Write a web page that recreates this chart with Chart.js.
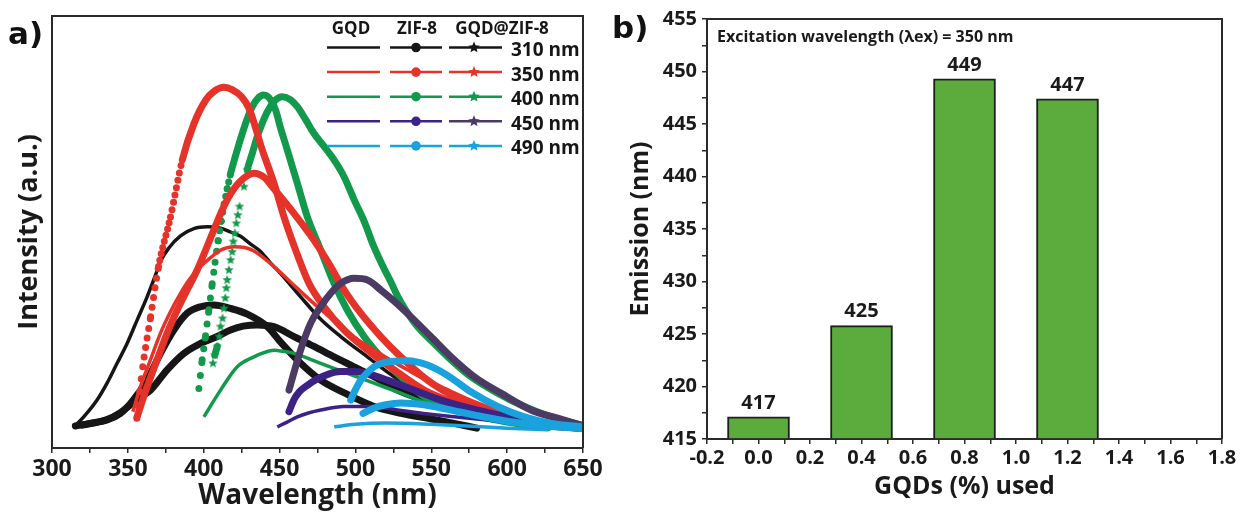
<!DOCTYPE html>
<html>
<head>
<meta charset="utf-8">
<script src="https://cdn.jsdelivr.net/npm/chart.js@4.4.1/dist/chart.umd.min.js"></script>
<style>
  body { margin: 0; background: #fff; width: 1241px; height: 514px; overflow: hidden; position: relative; }
  #spectra { position: absolute; left: 0; top: 0; }
  #emission { position: absolute; left: 620px; top: 0; }
  .panel { position: absolute; font: bold 31px 'DejaVu Sans', sans-serif; color: #111; line-height: 1; }
</style>
</head>
<body>
<canvas id="spectra" width="620" height="514"></canvas>
<canvas id="emission" width="621" height="514"></canvas>
<div class="panel" style="left:8px;top:18px">a)</div>
<div class="panel" style="left:612px;top:12px">b)</div>
<script>
// panel a: emission spectra, [wavelength (nm), intensity (a.u.)]
const gqd310 = [[315.4,52],[320.9,72],[329.7,111],[336.3,150],[342.9,196],[349.5,242],[356.1,296],[362.7,350],[368.2,400],[371.5,432],[377,463],[384.7,491],[393.5,508],[402.3,512],[411.1,509],[417.7,500],[424.3,490],[430.9,472],[437.5,455],[444.1,428],[450.7,404],[463.9,350],[477.1,298],[490.3,258],[507.9,211],[525.5,165],[543.1,134],[560.7,108],[580,82],[600,63],[625,50],[650,41]];
const zif310 = [[315.4,51],[325.3,57],[336.3,65],[345.1,80],[351.7,103],[357,127],[362.7,157],[371.5,219],[380.3,273],[389.1,312],[397.9,327],[406.7,331],[417.7,323],[428.7,310],[441.9,281],[450.7,245],[463.9,196],[477.1,157],[494.7,124],[512.3,96],[530,80],[550,67],[565,57],[580,46]];
const gqdZif310 = [[320,53],[336.3,66],[345.1,82],[351.7,100],[357,115],[364.9,134],[375.9,181],[386.9,219],[397.9,242],[408.9,258],[417.7,273],[426,282],[435.3,285],[446.3,281],[459.5,258],[472.7,235],[485.9,211],[499.1,188],[512.3,165],[527.7,134],[545.3,111],[565,92],[580,79],[600,64],[625,52],[650,45]];

const gqd350 = [[353.3,84],[358.3,142],[365,205],[371.5,266],[378,315],[384.7,358],[391,392],[397.9,420],[405,442],[411.1,458],[419.9,466],[427,464],[433.1,456],[446.3,420],[457,385],[468.3,348],[479,315],[490.3,281],[501,252],[512.3,227],[523,204],[534.3,181],[545,160],[556.3,142],[580,105],[600,80],[625,60],[650,46]];
const zif350 = [[355.9,69],[359.8,188],[365,304],[370.2,420],[378.1,535],[385.9,667],[393.7,752],[401.5,806],[407,826],[413.3,835],[419,829],[425,813],[430,785],[438.6,690],[446.3,613],[452.9,535],[460.6,458],[469.4,381],[479.3,327],[492.5,273],[507.9,227],[525.5,181],[545.3,134],[565.1,104],[580,82],[600,64],[625,52],[650,45]];
const gqdZif350 = [[356.1,72],[362.7,142],[369.3,204],[375.9,266],[382.5,319],[389.1,366],[395.7,412],[406.7,505],[412.2,551],[417.7,588],[424.3,618],[433.1,636],[440,626],[446.3,600],[459.5,543],[472.7,481],[483.7,420],[492.5,366],[503.5,312],[516.7,258],[529.9,211],[547.5,157],[565.1,119],[580,97],[600,75],[625,58],[650,46]];

const gqd400 = [[400.1,72],[411.1,134],[422.1,188],[433.1,211],[440,221],[446.3,226],[452,224],[459.5,219],[477.1,196],[494.7,173],[512.3,150],[529.9,127],[547.5,103],[565,86],[580,73],[600,60],[625,50],[650,43]];
const zif400 = [[396.8,138],[399,204],[401.2,260],[403.4,320],[405.6,380],[407.5,430],[409.5,480],[411.5,525],[413.5,565],[415.5,600],[417.7,635],[422.1,690],[426.5,740],[430.9,782],[435.3,808],[439.7,817],[444.1,806],[447.4,782],[450.7,740],[455.1,690],[461.7,613],[468.3,535],[477.1,458],[485.9,381],[494.7,319],[505.7,258],[516.7,211],[529.9,165],[545.3,119],[560,95],[580,75],[600,60],[627,47]];
const gqdZif400 = [[406.1,196],[407.3,215],[408.9,235],[410.2,258],[411.1,281],[412.4,300],[413.3,323],[414.2,347],[414.9,370],[415.5,389],[416.6,412],[417.7,435],[418.8,454],[419.5,478],[420.5,497],[421.5,520],[422.5,539],[423.6,559],[426.5,605],[428.7,644],[432,682],[435.3,721],[438.6,752],[441.9,778],[446.3,802],[451.8,813],[457.3,806],[461.7,790],[467.2,760],[472.7,728],[479.3,698],[485.9,667],[492.5,628],[499.1,575],[505.7,525],[512.3,465],[518.9,415],[523.3,385],[527.7,352],[532.1,325],[540.9,281],[551.9,242],[563,204],[576.1,165],[593.7,127],[611.3,96],[629,72],[648.7,53]];

const gqd450 = [[448.5,49],[455,60],[461.7,72],[469,81],[477.1,88],[492.5,96],[510.1,96],[527.7,88],[545,80],[560,74],[580,67],[600,60],[625,52],[650,45]];
const zif450 = [[456.2,84],[459.5,112],[463,130],[468.3,145],[474.9,160],[481.5,170],[490,177],[500,177],[507.9,172],[521.1,157],[538.7,134],[556.3,111],[580,88],[600,72],[625,57],[650,47]];
const gqdZif450 = [[456.2,134],[463.9,227],[470.5,289],[477.1,327],[483.7,358],[490.3,381],[499.1,393],[507.9,389],[516.7,366],[525.5,340],[536.5,304],[549.7,258],[563,211],[578.3,165],[595.9,127],[615.7,88],[633.3,69],[648.7,53]];

const gqd490 = [[486,49],[500,55],[520,58],[550,55],[580,50],[600,46],[627,42]];
const zif490 = [[505,80],[512,92],[520,100],[530,104],[545,100],[560,90],[580,75],[600,62],[625,51],[650,45]];
const gqdZif490 = [[496.9,111],[500,135],[503.5,157],[508,175],[512.3,188],[517,196],[523.3,200],[534.3,202],[547.5,192],[560.7,168],[576.1,130],[593.7,96],[611.3,72],[629,57],[648.7,49]];

const legendHeaders = ['GQD', 'ZIF-8', 'GQD@ZIF-8'];
const excitations = ['310 nm', '350 nm', '400 nm', '450 nm', '490 nm'];
const lineColors = ['#161616', '#e5332a', '#13994b', '#3d2286', '#19a2dd'];
const starColors = ['#161616', '#e5332a', '#13994b', '#4b3a63', '#19a2dd'];

// panel b: emission peak vs GQD loading
const gqdPercent = [0, 0.4, 0.8, 1.2];
const emissionNm = [417.1, 425.8, 449.3, 447.4];
const emissionLabels = ['417', '425', '449', '447'];

const axisColor = '#2a2a2a';
const fontFamily = "'Open Sans', sans-serif";
Chart.defaults.font.family = fontFamily;
Chart.defaults.color = '#1a1a1a';

function drawStar(g, cx, cy, r, color) {
  g.beginPath();
  for (let i = 0; i < 10; i++) {
    const a = -Math.PI / 2 + i * Math.PI / 5;
    const rr = i % 2 ? r * 0.45 : r;
    g.lineTo(cx + rr * Math.cos(a), cy + rr * Math.sin(a));
  }
  g.closePath();
  g.fillStyle = color;
  g.fill();
}

function starImage(color, r) {
  const c = document.createElement('canvas');
  c.width = c.height = Math.ceil(r * 2 + 2);
  drawStar(c.getContext('2d'), c.width / 2, c.height / 2, r, color);
  return c;
}

const toXY = arr => arr.map(p => ({ x: p[0], y: p[1] }));
const pxSlope = ctx => Math.abs(ctx.p1.y - ctx.p0.y) / Math.max(Math.abs(ctx.p1.x - ctx.p0.x), 0.01);

function gqdLine(data, color) {
  return {
    data: toXY(data), borderColor: color, borderWidth: 3.5, pointRadius: 0,
    cubicInterpolationMode: 'monotone'
  };
}

// ZIF-8 traces: dense markers, separate dots only where the curve is steep
function zifLine(data, color) {
  return {
    data: toXY(data), borderColor: color, borderWidth: 7, borderCapStyle: 'round',
    pointRadius: 0, cubicInterpolationMode: 'monotone',
    segment: {
      borderDash: ctx => {
        const s = pxSlope(ctx);
        const gap = 1.515 * Math.sqrt(1 + s * s);
        return gap > 6.2 ? [0, gap] : undefined;
      }
    }
  };
}

// GQD@ZIF-8 traces: stars visible where the curve is steep
function starLine(data, color) {
  const steep = (i, j) => {
    if (j < 0 || j >= data.length) return false;
    return Math.abs(data[j][1] - data[i][1]) / Math.abs(data[j][0] - data[i][0]) * 0.285 > 3.6;
  };
  return {
    data: toXY(data), borderColor: color, borderWidth: 7, borderCapStyle: 'round',
    cubicInterpolationMode: 'monotone', pointStyle: starImage(color, 5),
    pointRadius: ctx => (steep(ctx.dataIndex, ctx.dataIndex - 1) || steep(ctx.dataIndex, ctx.dataIndex + 1)) ? 5 : 0,
    segment: { borderColor: ctx => pxSlope(ctx) > 3.6 ? 'rgba(0,0,0,0)' : undefined }
  };
}

const frame = {
  id: 'frame',
  afterDraw(chart) {
    const { ctx, chartArea: a } = chart;
    ctx.save();
    ctx.strokeStyle = axisColor;
    ctx.lineWidth = 2;
    ctx.beginPath();
    ctx.moveTo(a.left, a.top);
    ctx.lineTo(a.right, a.top);
    ctx.lineTo(a.right, a.bottom);
    ctx.stroke();
    ctx.restore();
  }
};

const spectraLegend = {
  id: 'spectraLegend',
  afterDraw(chart) {
    const ctx = chart.ctx;
    ctx.save();
    ctx.fillStyle = '#161616';
    ctx.textBaseline = 'middle';
    ctx.textAlign = 'center';
    ctx.font = `bold 17px ${fontFamily}`;
    const headX = [351, 417, 502];
    legendHeaders.forEach((h, i) => ctx.fillText(h, headX[i], 29));
    excitations.forEach((label, i) => {
      const y = 47.5 + i * 24.6;
      ctx.lineWidth = 2.5;
      ctx.strokeStyle = lineColors[i];
      ctx.beginPath(); ctx.moveTo(327, y); ctx.lineTo(380, y); ctx.stroke();
      ctx.beginPath(); ctx.moveTo(390, y); ctx.lineTo(442, y); ctx.stroke();
      ctx.beginPath(); ctx.arc(416, y, 4.8, 0, Math.PI * 2); ctx.fillStyle = lineColors[i]; ctx.fill();
      ctx.strokeStyle = starColors[i];
      ctx.beginPath(); ctx.moveTo(449, y); ctx.lineTo(502, y); ctx.stroke();
      drawStar(ctx, 474, y, 6, starColors[i]);
      ctx.fillStyle = '#161616';
      ctx.textAlign = 'left';
      ctx.font = `bold 19px ${fontFamily}`;
      ctx.fillText(label, 511, y + 3);
    });
    ctx.restore();
  }
};

new Chart(document.getElementById('spectra'), {
  type: 'line',
  data: {
    datasets: [
      starLine(gqdZif490, starColors[4]), zifLine(zif490, lineColors[4]), gqdLine(gqd490, lineColors[4]),
      starLine(gqdZif450, starColors[3]), zifLine(zif450, lineColors[3]), gqdLine(gqd450, lineColors[3]),
      gqdLine(gqd350, lineColors[1]), starLine(gqdZif350, starColors[1]), zifLine(zif350, lineColors[1]),
      gqdLine(gqd400, lineColors[2]), starLine(gqdZif400, starColors[2]), zifLine(zif400, lineColors[2]),
      gqdLine(gqd310, lineColors[0]), starLine(gqdZif310, starColors[0]), zifLine(zif310, lineColors[0])
    ]
  },
  options: {
    responsive: false,
    animation: false,
    layout: { padding: { top: 16, right: 37, left: 0, bottom: 0 } },
    plugins: { legend: { display: false }, tooltip: { enabled: false } },
    scales: {
      x: {
        type: 'linear', min: 300, max: 650,
        ticks: {
          stepSize: 25, autoSkip: false, maxRotation: 0, padding: 3,
          callback: v => v % 50 === 0 ? v : '',
          font: { size: 23, weight: 'bold' }, color: '#1a1a1a'
        },
        grid: { drawOnChartArea: false, tickLength: 5, color: axisColor, lineWidth: 1.5 },
        border: { color: axisColor, width: 2 },
        title: { display: true, text: 'Wavelength (nm)', font: { size: 28, weight: 'bold' }, color: '#1a1a1a', padding: { top: 0, bottom: 1 } },
        afterFit: s => { s.height = 66; }
      },
      y: {
        min: 0, max: 1000,
        ticks: { display: false },
        grid: { display: false },
        border: { color: axisColor, width: 2 },
        title: { display: true, text: 'Intensity (a.u.)', font: { size: 27, weight: 'bold' }, color: '#1a1a1a', padding: { top: 13, bottom: 0 } },
        afterFit: s => { s.width = 52; }
      }
    }
  },
  plugins: [frame, spectraLegend]
});

const barLabels = {
  id: 'barLabels',
  afterDatasetsDraw(chart) {
    const ctx = chart.ctx;
    ctx.save();
    ctx.font = `bold 20px ${fontFamily}`;
    ctx.fillStyle = '#1a1a1a';
    ctx.textAlign = 'center';
    ctx.textBaseline = 'middle';
    chart.getDatasetMeta(0).data.forEach((bar, i) => ctx.fillText(emissionLabels[i], bar.x, bar.y - 14));
    ctx.font = `bold 16px ${fontFamily}`;
    ctx.textAlign = 'left';
    ctx.fillText('Excitation wavelength (\u03bbex) = 350 nm', 97, 37);
    ctx.restore();
  }
};

new Chart(document.getElementById('emission'), {
  type: 'bar',
  data: {
    datasets: [{
      data: gqdPercent.map((x, i) => ({ x, y: emissionNm[i] })),
      backgroundColor: '#5cab3d',
      borderColor: '#1e1e1e',
      borderWidth: 2,
      barThickness: 62,
      base: 415
    }]
  },
  options: {
    responsive: false,
    animation: false,
    layout: { padding: { top: 19, right: 19, left: 0, bottom: 0 } },
    plugins: { legend: { display: false }, tooltip: { enabled: false } },
    scales: {
      x: {
        type: 'linear', min: -0.2, max: 1.8, offset: false,
        ticks: {
          stepSize: 0.1, autoSkip: false, maxRotation: 0, padding: 2,
          callback: v => Math.round(v * 10) % 2 === 0 ? v.toFixed(1) : '',
          font: { size: 20, weight: 'bold' }, color: '#1a1a1a'
        },
        grid: { drawOnChartArea: false, offset: false, tickLength: 5, color: axisColor, lineWidth: 1.5 },
        border: { color: axisColor, width: 2 },
        title: { display: true, text: 'GQDs (%) used', font: { size: 25, weight: 'bold' }, color: '#1a1a1a', padding: { top: 0, bottom: 12 } },
        afterFit: s => { s.height = 75; }
      },
      y: {
        min: 415, max: 455,
        ticks: {
          stepSize: 2.5, autoSkip: false, padding: 5,
          callback: v => v % 5 === 0 ? v : '',
          font: { size: 20, weight: 'bold' }, color: '#1a1a1a'
        },
        grid: { drawOnChartArea: false, tickLength: 5, color: axisColor, lineWidth: 1.5 },
        border: { color: axisColor, width: 2 },
        title: { display: true, text: 'Emission (nm)', font: { size: 25, weight: 'bold' }, color: '#1a1a1a', padding: { top: 6, bottom: 0 } },
        afterFit: s => { s.width = 87; }
      }
    }
  },
  plugins: [frame, barLabels]
});
</script>
</body>
</html>
